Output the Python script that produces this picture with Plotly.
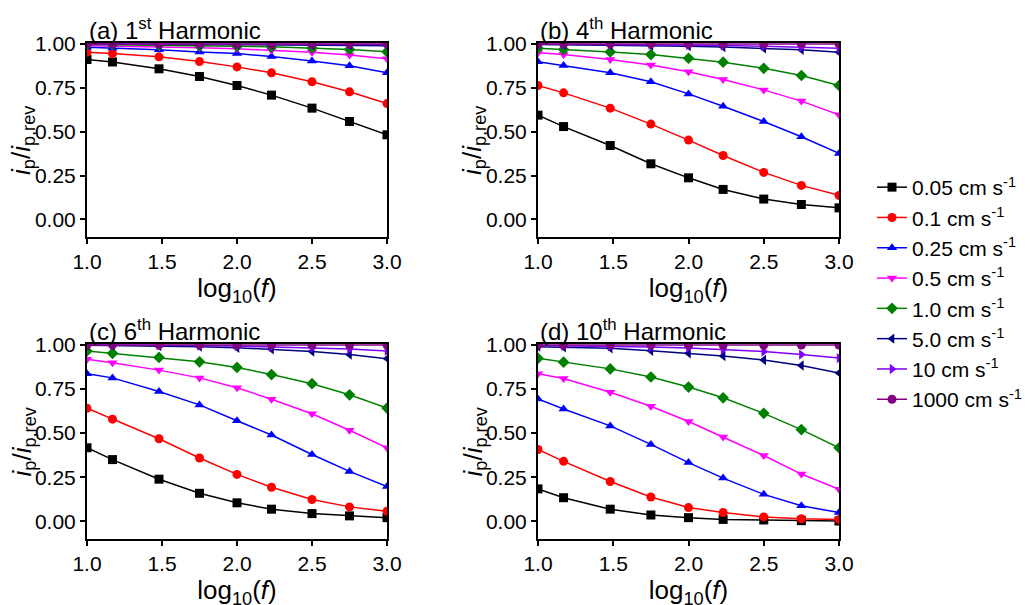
import plotly.graph_objects as go

# ---------------- data ----------------
log_f = [1.0, 1.17, 1.48, 1.75, 2.0, 2.23, 2.5, 2.75, 3.0]

rates = ["0.05", "0.1", "0.25", "0.5", "1.0", "5.0", "10", "1000"]

panel_titles = ["(a) 1<sup>st</sup> Harmonic", "(b) 4<sup>th</sup> Harmonic",
                "(c) 6<sup>th</sup> Harmonic", "(d) 10<sup>th</sup> Harmonic"]

h1 = {
    "0.05": [0.911, 0.897, 0.858, 0.814, 0.763, 0.708, 0.634, 0.558, 0.482],
    "0.1":  [0.953, 0.945, 0.926, 0.899, 0.869, 0.835, 0.784, 0.727, 0.660],
    "0.25": [0.981, 0.977, 0.966, 0.954, 0.945, 0.928, 0.903, 0.875, 0.835],
    "0.5":  [0.990, 0.988, 0.984, 0.978, 0.972, 0.964, 0.952, 0.937, 0.915],
    "1.0":  [0.996, 0.995, 0.993, 0.990, 0.987, 0.983, 0.977, 0.968, 0.955],
    "5.0":  [1.000, 0.999, 0.999, 0.998, 0.997, 0.996, 0.995, 0.993, 0.990],
    "10":   [1.000, 1.000, 1.000, 0.999, 0.999, 0.999, 0.998, 0.998, 0.997],
    "1000": [1.000, 1.000, 1.000, 1.000, 1.000, 1.000, 1.000, 1.000, 1.000],
}
h4 = {
    "0.05": [0.594, 0.529, 0.421, 0.317, 0.237, 0.171, 0.116, 0.085, 0.066],
    "0.1":  [0.763, 0.721, 0.634, 0.543, 0.452, 0.364, 0.268, 0.194, 0.137],
    "0.25": [0.898, 0.877, 0.835, 0.784, 0.715, 0.645, 0.558, 0.471, 0.376],
    "0.5":  [0.949, 0.939, 0.911, 0.880, 0.841, 0.797, 0.738, 0.674, 0.596],
    "1.0":  [0.975, 0.968, 0.954, 0.939, 0.918, 0.896, 0.861, 0.820, 0.763],
    "5.0":  [0.997, 0.996, 0.994, 0.991, 0.987, 0.982, 0.975, 0.966, 0.952],
    "10":   [0.999, 0.998, 0.997, 0.996, 0.994, 0.991, 0.987, 0.982, 0.975],
    "1000": [1.000, 1.000, 1.000, 1.000, 1.000, 1.000, 1.000, 1.000, 1.000],
}
h6 = {
    "0.05": [0.417, 0.350, 0.239, 0.159, 0.105, 0.069, 0.044, 0.031, 0.021],
    "0.1":  [0.641, 0.579, 0.468, 0.359, 0.266, 0.193, 0.124, 0.082, 0.057],
    "0.25": [0.837, 0.813, 0.736, 0.660, 0.570, 0.489, 0.379, 0.283, 0.197],
    "0.5":  [0.918, 0.899, 0.857, 0.813, 0.757, 0.692, 0.610, 0.516, 0.417],
    "1.0":  [0.966, 0.952, 0.929, 0.904, 0.872, 0.832, 0.780, 0.717, 0.642],
    "5.0":  [0.998, 0.997, 0.994, 0.990, 0.984, 0.975, 0.962, 0.945, 0.922],
    "10":   [0.999, 0.999, 0.998, 0.996, 0.993, 0.989, 0.983, 0.976, 0.966],
    "1000": [1.000, 1.000, 1.000, 1.000, 1.000, 1.000, 1.000, 0.999, 0.999],
}
h10 = {
    "0.05": [0.184, 0.134, 0.069, 0.036, 0.021, 0.011, 0.008, 0.004, 0.002],
    "0.1":  [0.407, 0.340, 0.226, 0.138, 0.078, 0.050, 0.025, 0.015, 0.010],
    "0.25": [0.694, 0.637, 0.541, 0.436, 0.333, 0.245, 0.153, 0.088, 0.050],
    "0.5":  [0.837, 0.809, 0.732, 0.652, 0.566, 0.478, 0.373, 0.268, 0.182],
    "1.0":  [0.924, 0.902, 0.864, 0.818, 0.761, 0.700, 0.612, 0.520, 0.417],
    "5.0":  [0.990, 0.987, 0.981, 0.967, 0.952, 0.937, 0.914, 0.883, 0.841],
    "10":   [0.996, 0.995, 0.992, 0.988, 0.983, 0.975, 0.962, 0.945, 0.925],
    "1000": [1.000, 1.000, 1.000, 1.000, 0.999, 0.999, 0.999, 0.999, 0.999],
}
panels = [h1, h4, h6, h10]

x_ticks = [1.0, 1.5, 2.0, 2.5, 3.0]
y_ticks = [0.0, 0.25, 0.5, 0.75, 1.0]

# ---------------- style ----------------
colors = ["#000000", "#FF0000", "#0000FF", "#FF00FF", "#008000", "#000080", "#8000FF", "#800080"]
symbols = ["square", "circle", "triangle-up", "triangle-down", "diamond",
           "triangle-left", "triangle-right", "circle"]

W, H = 1030, 605
OFF = 8  # page body margin offset in the screenshot
# panel pixel boxes in screen coords: (left, right, top, bottom)
boxes = [(87, 387, 43, 237), (538, 839, 43, 237), (87, 387, 344, 539), (538, 839, 344, 539)]


def px(v):
    return (v - OFF) / W


def py(v):
    return 1 - (v - OFF) / H


FONT = "Liberation Sans, Arial, sans-serif"
fig = go.Figure()

layout = dict(
    width=W, height=H, margin=dict(l=0, r=0, t=0, b=0, autoexpand=False),
    paper_bgcolor="white", plot_bgcolor="white",
    font=dict(family=FONT, color="black", size=21),
    showlegend=True,
    legend=dict(x=px(872), y=py(167), xanchor="left", yanchor="top",
                font=dict(size=21, family=FONT), itemwidth=30,
                tracegroupgap=0, bgcolor="rgba(0,0,0,0)"),
)
annotations = []

for p, (data, box) in enumerate(zip(panels, boxes)):
    l, r, t, b = box
    ax = "" if p == 0 else str(p + 1)
    xa, ya = "x" + ax, "y" + ax
    for k, rate in enumerate(rates):
        fig.add_trace(go.Scatter(
            x=log_f, y=data[rate], mode="lines+markers",
            name=f"{rate} cm s<sup>-1</sup>", legendgroup=rate,
            showlegend=(p == 0),
            line=dict(color=colors[k], width=1.5),
            marker=dict(symbol=symbols[k], size=9, color=colors[k]),
            xaxis=xa, yaxis=ya, cliponaxis=True,
        ))
    common = dict(showline=True, linecolor="black", linewidth=2, mirror=True,
                  ticks="outside", ticklen=5, tickwidth=2, tickcolor="black",
                  showgrid=False, zeroline=False, automargin=False,
                  tickfont=dict(size=21, family=FONT, color="black"))
    layout["xaxis" + ax] = dict(domain=[px(l), px(r)], range=[1.0, 3.0],
                                tickvals=x_ticks, ticktext=[f"{v:.1f}" for v in x_ticks],
                                anchor=ya,
                                title=dict(text="log<sub>10</sub>(<i>f</i>)",
                                           font=dict(size=26, family=FONT), standoff=5),
                                **common)
    layout["yaxis" + ax] = dict(domain=[py(b), py(t)], range=[-0.1, 1.005],
                                tickvals=y_ticks, ticktext=[f"{v:.2f}" for v in y_ticks],
                                anchor=xa, ticklabelstandoff=0, **common)
    # y-axis title
    annotations.append(dict(text="<i>i</i><sub>p</sub>/<i>i</i><sub>p,rev</sub>",
                            x=px(l - 64), y=py((t + b) / 2), xref="paper", yref="paper",
                            xanchor="center", yanchor="middle", textangle=-90,
                            showarrow=False, font=dict(size=26, family=FONT, color="black")))
    # panel title
    annotations.append(dict(text=panel_titles[p], x=px(l), y=py(t) - 3 / H,
                            xref="paper", yref="paper", xanchor="left", yanchor="bottom",
                            showarrow=False, font=dict(size=24, family=FONT, color="black")))

layout["annotations"] = annotations
fig.update_layout(**layout)
fig.write_html("out.html")
